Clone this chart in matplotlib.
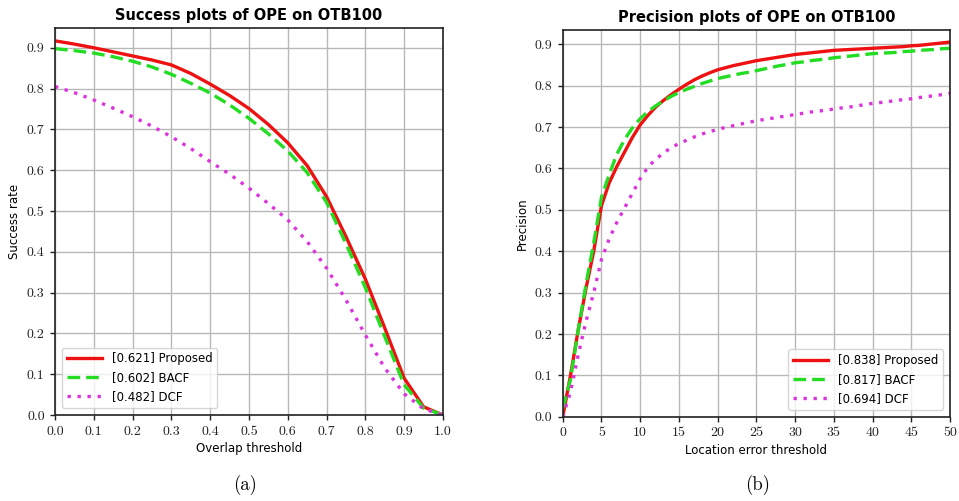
import matplotlib
matplotlib.use("Agg")
import matplotlib.pyplot as plt
from matplotlib.font_manager import FontProperties
import numpy as np

# ---------------- data ----------------
overlap_x = [0.0, 0.05, 0.1, 0.15, 0.2, 0.25, 0.3, 0.35, 0.4, 0.45, 0.5,
             0.55, 0.6, 0.65, 0.7, 0.75, 0.8, 0.85, 0.9, 0.95, 1.0]
success_proposed = [0.917, 0.909, 0.900, 0.890, 0.880, 0.870, 0.858, 0.837, 0.811, 0.783, 0.751,
                    0.712, 0.667, 0.611, 0.535, 0.437, 0.333, 0.213, 0.090, 0.020, 0.0]
success_bacf = [0.898, 0.893, 0.887, 0.878, 0.867, 0.853, 0.835, 0.813, 0.789, 0.760, 0.727,
                0.689, 0.647, 0.594, 0.521, 0.420, 0.312, 0.192, 0.074, 0.017, 0.0]
success_dcf = [0.805, 0.790, 0.772, 0.752, 0.731, 0.708, 0.682, 0.653, 0.621, 0.590, 0.556,
               0.518, 0.478, 0.425, 0.360, 0.282, 0.196, 0.115, 0.052, 0.015, 0.0]

loc_x = list(range(0, 51))
prec_proposed = [0.0, 0.10, 0.21, 0.31, 0.40, 0.51, 0.565, 0.605, 0.64, 0.675, 0.705,
                 0.728, 0.748, 0.764, 0.778, 0.791, 0.803, 0.814, 0.823, 0.831, 0.838,
                 0.843, 0.848, 0.852, 0.856, 0.860, 0.863, 0.866, 0.869, 0.872, 0.875,
                 0.877, 0.879, 0.881, 0.883, 0.885, 0.886, 0.887, 0.888, 0.889, 0.890,
                 0.891, 0.892, 0.893, 0.894, 0.896, 0.897, 0.899, 0.901, 0.903, 0.905]
prec_bacf = [0.02, 0.09, 0.21, 0.32, 0.42, 0.53, 0.585, 0.635, 0.67, 0.698, 0.720,
             0.737, 0.751, 0.763, 0.774, 0.783, 0.791, 0.798, 0.805, 0.811, 0.817,
             0.821, 0.825, 0.829, 0.832, 0.836, 0.840, 0.844, 0.848, 0.851, 0.855,
             0.857, 0.860, 0.862, 0.864, 0.867, 0.869, 0.871, 0.873, 0.875, 0.877,
             0.878, 0.879, 0.880, 0.882, 0.883, 0.885, 0.886, 0.887, 0.889, 0.890]
prec_dcf = [0.0, 0.06, 0.15, 0.23, 0.30, 0.38, 0.43, 0.47, 0.505, 0.54, 0.575,
            0.603, 0.622, 0.637, 0.650, 0.660, 0.668, 0.676, 0.683, 0.689, 0.694,
            0.699, 0.703, 0.707, 0.711, 0.715, 0.718, 0.721, 0.724, 0.727, 0.730,
            0.733, 0.736, 0.738, 0.741, 0.743, 0.746, 0.748, 0.751, 0.754, 0.757,
            0.759, 0.761, 0.764, 0.766, 0.768, 0.771, 0.773, 0.776, 0.778, 0.781]

success_labels = ["[0.621] Proposed", "[0.602] BACF", "[0.482] DCF"]
prec_labels = ["[0.838] Proposed", "[0.817] BACF", "[0.694] DCF"]
x_ticks_a = [0.0, 0.1, 0.2, 0.3, 0.4, 0.5, 0.6, 0.7, 0.8, 0.9, 1.0]
y_ticks = [0.0, 0.1, 0.2, 0.3, 0.4, 0.5, 0.6, 0.7, 0.8, 0.9]
x_ticks_b = [0, 5, 10, 15, 20, 25, 30, 35, 40, 45, 50]

# ---------------- style ----------------
RED = "#ee1111"
GREEN = "#22dd22"
MAG = "#dd33dd"
tickfont = FontProperties(family="cmr10", size=10)
capfont = FontProperties(family="cmr10", size=13.5)

fig = plt.figure(figsize=(9.59, 5.01), dpi=100)
axA = fig.add_axes([0.0574, 0.1717, 0.4045, 0.772])
axB = fig.add_axes([0.5868, 0.168, 0.4038, 0.772])


def style(ax, xticks, xfmt):
    ax.set_yticks(y_ticks)
    ax.set_yticklabels([f"{v:.1f}" for v in y_ticks], fontproperties=tickfont)
    ax.set_xticks(xticks)
    ax.set_xticklabels([xfmt(v) for v in xticks], fontproperties=tickfont)
    ax.grid(True, color="#b8b8b8", linewidth=1.0)
    ax.set_axisbelow(True)
    for s in ax.spines.values():
        s.set_linewidth(1.2)
        s.set_color("#222222")
    ax.tick_params(direction="out", length=3.5, width=1, colors="#222222")
    ax.tick_params(axis="x", pad=4)
    ax.tick_params(axis="y", pad=4)


lw = 2.4
axA.plot(overlap_x, success_proposed, color=RED, lw=lw, ls="-", label=success_labels[0])
axA.plot(overlap_x, success_bacf, color=GREEN, lw=lw, ls=(0, (3.8, 1.8)), label=success_labels[1])
axA.plot(overlap_x, success_dcf, color=MAG, lw=lw, ls=(0, (1, 2)), label=success_labels[2])
axA.set_xlim(0, 1)
axA.set_ylim(0, 0.948)
style(axA, x_ticks_a, lambda v: f"{v:.1f}")
axA.set_title("Success plots of OPE on OTB100", fontsize=10.5, fontweight="bold", pad=6)
axA.set_xlabel("Overlap threshold", fontsize=8.5, labelpad=3)
axA.set_ylabel("Success rate", fontsize=8.5, labelpad=4)
axA.legend(loc="lower left", fontsize=8.5, handlelength=3.0, framealpha=0.8,
           edgecolor="#cccccc", borderaxespad=0.6)

axB.plot(loc_x, prec_proposed, color=RED, lw=lw, ls="-", label=prec_labels[0])
axB.plot(loc_x, prec_bacf, color=GREEN, lw=lw, ls=(0, (3.8, 1.8)), label=prec_labels[1])
axB.plot(loc_x, prec_dcf, color=MAG, lw=lw, ls=(0, (1, 2)), label=prec_labels[2])
axB.set_xlim(0, 50)
axB.set_ylim(0, 0.934)
style(axB, x_ticks_b, lambda v: f"{v:d}")
axB.set_title("Precision plots of OPE on OTB100", fontsize=10.5, fontweight="bold", pad=6)
axB.set_xlabel("Location error threshold", fontsize=8.5, labelpad=3)
axB.set_ylabel("Precision", fontsize=8.5, labelpad=4)
axB.legend(loc="lower right", fontsize=8.5, handlelength=3.0, framealpha=0.8,
           edgecolor="#cccccc", borderaxespad=0.6)

fig.text(0.2555, 0.032, "(a)", fontproperties=capfont, ha="center", va="center")
fig.text(0.79, 0.032, "(b)", fontproperties=capfont, ha="center", va="center")

fig.savefig("out.png", dpi=100)
